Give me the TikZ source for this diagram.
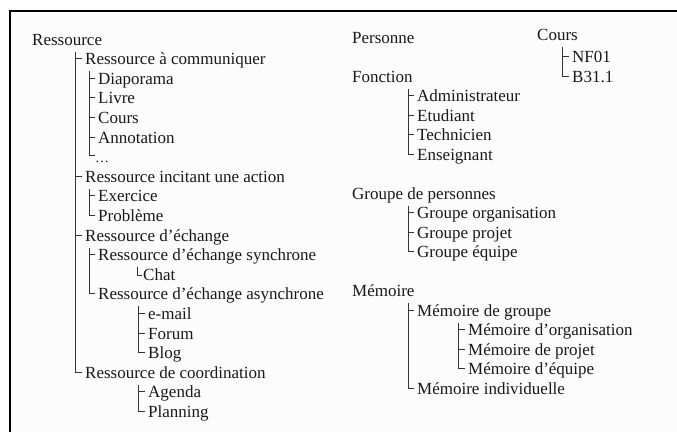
\documentclass[tikz,border=0pt]{standalone}
\usepackage{fontspec}
\setmainfont{Liberation Serif}
\begin{document}
\begin{tikzpicture}[x=1pt,y=-1pt,
  lbl/.style={anchor=base west,inner sep=0pt,font=\fontsize{17}{20}\selectfont,text=black!90},
  br/.style={draw=black!80,line width=0.9pt},
  frm/.style={line width=2.2pt,black}]
\useasboundingbox (0,0) rectangle (677,432);
\fill[black!1] (10,11) rectangle (677,432);
\draw[frm] (10,432) -- (10,11.2) -- (677,11.2);
% ---------- left column ----------
\node[lbl] (res) at (32,45) {Ressource};
\node[lbl] (com) at (85,64.6) {Ressource à communiquer};
\node[lbl] (dia) at (98,84.2) {Diaporama};
\node[lbl] (liv) at (98,103.8) {Livre};
\node[lbl] (cou) at (98,123.4) {Cours};
\node[lbl] (ann) at (98,143) {Annotation};
\node[lbl,font=\fontsize{14}{16}\selectfont] (dot) at (95,162.6) {…};
\node[lbl] (inc) at (85,182.2) {Ressource incitant une action};
\node[lbl] (exe) at (98,201.8) {Exercice};
\node[lbl] (pro) at (98,221.4) {Problème};
\node[lbl] (ech) at (85,241) {Ressource d’échange};
\node[lbl] (syn) at (98,260.6) {Ressource d’échange synchrone};
\node[lbl] (cha) at (143,280.2) {Chat};
\node[lbl] (asy) at (98,299.8) {Ressource d’échange asynchrone};
\node[lbl] (mai) at (148,319.4) {e-mail};
\node[lbl] (for) at (148,339) {Forum};
\node[lbl] (blo) at (148,358.6) {Blog};
\node[lbl] (coo) at (85,378.2) {Ressource de coordination};
\node[lbl] (age) at (148,397.8) {Agenda};
\node[lbl] (pla) at (148,417.4) {Planning};
% trunks (left)
\coordinate (tres) at (75,52);
\coordinate (tcom) at (89,71);
\coordinate (tinc) at (89,189);
\coordinate (tech) at (89,248);
\coordinate (tsyn) at (137,267);
\coordinate (tasy) at (138,306);
\coordinate (tcoo) at (138,385);
\draw[br] (tres) |- ([xshift=-3pt,yshift=6pt]com.base west)
          (tres) |- ([xshift=-3pt,yshift=6pt]inc.base west)
          (tres) |- ([xshift=-3pt,yshift=6pt]ech.base west)
          (tres) |- ([xshift=-3pt,yshift=6pt]coo.base west);
\draw[br] (tcom) |- ([xshift=-3pt,yshift=6pt]dia.base west)
          (tcom) |- ([xshift=-3pt,yshift=6pt]liv.base west)
          (tcom) |- ([xshift=-3pt,yshift=6pt]cou.base west)
          (tcom) |- ([xshift=-3pt,yshift=6pt]ann.base west)
          (tcom) |- ([xshift=0pt,yshift=7pt]dot.base west);
\draw[br] (tinc) |- ([xshift=-3pt,yshift=6pt]exe.base west)
          (tinc) |- ([xshift=-3pt,yshift=6pt]pro.base west);
\draw[br] (tech) |- ([xshift=-3pt,yshift=6pt]syn.base west)
          (tech) |- ([xshift=-3pt,yshift=6pt]asy.base west);
\draw[br] (tsyn) |- ([xshift=-1pt,yshift=5pt]cha.base west);
\draw[br] (tasy) |- ([xshift=-3pt,yshift=6pt]mai.base west)
          (tasy) |- ([xshift=-3pt,yshift=6pt]for.base west)
          (tasy) |- ([xshift=-3pt,yshift=6pt]blo.base west);
\draw[br] (tcoo) |- ([xshift=-3pt,yshift=6pt]age.base west)
          (tcoo) |- ([xshift=-3pt,yshift=6pt]pla.base west);
% ---------- right column ----------
\node[lbl] (per) at (352,43) {Personne};
\node[lbl] (crs) at (537,40) {Cours};
\node[lbl] (nf) at (572,62.5) {NF01};
\node[lbl] (bt) at (572,82) {B31.1};
\node[lbl] (fon) at (352,82) {Fonction};
\node[lbl] (adm) at (417,101.5) {Administrateur};
\node[lbl] (etu) at (417,121) {Etudiant};
\node[lbl] (tec) at (417,140.5) {Technicien};
\node[lbl] (ens) at (417,160) {Enseignant};
\node[lbl] (grp) at (352,199) {Groupe de personnes};
\node[lbl] (gor) at (417,218.5) {Groupe organisation};
\node[lbl] (gpr) at (417,238) {Groupe projet};
\node[lbl] (geq) at (417,257.5) {Groupe équipe};
\node[lbl] (mem) at (352,296.5) {Mémoire};
\node[lbl] (mgr) at (417,316) {Mémoire de groupe};
\node[lbl] (mor) at (468,335.5) {Mémoire d’organisation};
\node[lbl] (mpr) at (468,355) {Mémoire de projet};
\node[lbl] (meq) at (468,374.5) {Mémoire d’équipe};
\node[lbl] (min) at (417,394) {Mémoire individuelle};
\coordinate (tcrs) at (562,47);
\coordinate (tfon) at (408,89);
\coordinate (tgrp) at (408,206);
\coordinate (tmem) at (408,303);
\coordinate (tmgr) at (458,323);
\draw[br] (tcrs) |- ([xshift=-3pt,yshift=6pt]nf.base west)
          (tcrs) |- ([xshift=-3pt,yshift=6pt]bt.base west);
\draw[br] (tfon) |- ([xshift=-3pt,yshift=6pt]adm.base west)
          (tfon) |- ([xshift=-3pt,yshift=6pt]etu.base west)
          (tfon) |- ([xshift=-3pt,yshift=6pt]tec.base west)
          (tfon) |- ([xshift=-3pt,yshift=6pt]ens.base west);
\draw[br] (tgrp) |- ([xshift=-3pt,yshift=6pt]gor.base west)
          (tgrp) |- ([xshift=-3pt,yshift=6pt]gpr.base west)
          (tgrp) |- ([xshift=-3pt,yshift=6pt]geq.base west);
\draw[br] (tmem) |- ([xshift=-3pt,yshift=6pt]mgr.base west)
          (tmem) |- ([xshift=-3pt,yshift=6pt]min.base west);
\draw[br] (tmgr) |- ([xshift=-3pt,yshift=6pt]mor.base west)
          (tmgr) |- ([xshift=-3pt,yshift=6pt]mpr.base west)
          (tmgr) |- ([xshift=-3pt,yshift=6pt]meq.base west);
\end{tikzpicture}
\end{document}
